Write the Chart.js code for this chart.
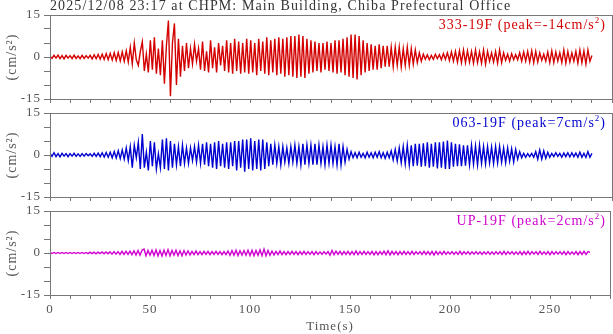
<!DOCTYPE html>
<html><head><meta charset="utf-8">
<script src="https://cdn.jsdelivr.net/npm/chart.js@4/dist/chart.umd.min.js"></script>
<style>
html,body{margin:0;padding:0;background:#fff;}
#wrap{position:relative;width:613px;height:334px;overflow:hidden;font-family:"Liberation Serif",serif;}
canvas{position:absolute;left:0;top:0;}
.t{position:absolute;white-space:nowrap;line-height:14px;}
#title{left:50px;top:-1px;font-size:14px;color:#333;letter-spacing:1.1px;}
.lab{right:7px;font-size:14px;letter-spacing:1px;}
.lab sup{font-size:9px;vertical-align:6px;line-height:0;}
</style></head>
<body>
<div id="wrap">
<canvas id="c0" width="613" height="334"></canvas>
<canvas id="c1" width="613" height="334"></canvas>
<canvas id="c2" width="613" height="334"></canvas>
<div class="t" id="title">2025/12/08 23:17 at CHPM: Main Building, Chiba Prefectural Office</div>
<div class="t lab" id="lab0" style="top:18px;color:#d40000">333-19F (peak=-14cm/s<sup>2</sup>)</div>
<div class="t lab" id="lab1" style="top:116px;color:#0000d0">063-19F (peak=7cm/s<sup>2</sup>)</div>
<div class="t lab" id="lab2" style="top:214px;color:#d000d0">UP-19F (peak=2cm/s<sup>2</sup>)</div>
</div>
<script>
const timeStep = 1;
const xLabelTicks = [0, 50, 100, 150, 200, 250];
const yLabelTicks = [-15, 0, 15];
const seriesColors = ['#d40000', '#0000d0', '#d000d0'];

// 333-19F acceleration (cm/s^2), one value per second from t=0
const acc333 = [
 0.3,-0.5,0.6,-0.4,0.7,-0.6,0.5,-0.7,0.6,-0.4,
 0.5,-0.6,0.7,-0.5,0.4,-0.6,0.6,-0.5,0.5,-0.4,
 0.6,-0.7,0.8,-0.6,0.9,-0.8,1.0,-0.9,1.2,-1.0,
 1.3,-1.1,1.5,-1.2,1.6,-1.4,1.8,-1.5,2.2,-1.8,
 3.5,-2.5,5.0,-1.0,-3.0,2.0,5.5,-5.0,1.0,-5.5,
 6.0,-4.5,7.0,-6.0,3.0,-6.5,6.0,-9.5,4.0,13.0,
 -14.0,5.0,12.0,-10.0,6.5,-7.0,4.0,-5.0,5.0,-4.0,
 3.0,-2.5,4.5,-1.5,3.0,-4.5,5.5,-5.0,2.0,-5.5,
 6.0,-4.0,3.5,-5.5,5.0,-3.0,4.0,-5.0,6.0,-5.5,
 5.0,-6.0,6.5,-5.0,5.5,-6.0,5.0,-5.5,6.5,-6.0,
 6.0,-5.5,5.0,-6.5,6.5,-5.0,5.5,-6.0,7.0,-6.5,
 6.0,-5.5,6.5,-6.5,7.0,-6.0,6.5,-7.0,7.0,-6.5,
 7.5,-7.0,7.5,-7.5,8.0,-7.0,7.5,-7.5,6.5,-6.0,
 6.0,-5.5,5.5,-5.0,5.0,-5.5,5.0,-4.5,5.5,-5.0,
 5.0,-5.5,6.0,-6.0,6.0,-5.5,6.5,-6.5,7.0,-7.0,
 8.0,-7.5,8.0,-8.0,7.5,-6.5,6.0,-5.5,5.0,-5.0,
 4.5,-4.5,4.0,-4.5,4.5,-4.0,4.0,-3.5,4.0,-3.5,
 3.5,-3.5,3.5,-3.0,3.5,-3.5,3.0,-3.0,3.5,-3.0,
 3.0,-2.5,2.5,-2.0,1.5,-1.5,1.0,-0.8,0.8,-1.0,
 0.6,-0.8,1.0,-0.6,0.8,-1.0,1.2,-0.8,1.5,-1.2,
 1.8,-1.5,2.0,-1.8,2.2,-2.0,2.5,-2.0,2.2,-1.8,
 2.0,-2.2,2.5,-2.0,1.8,-2.2,2.5,-2.5,2.0,-1.5,
 1.5,-1.8,2.0,-2.2,2.5,-2.0,1.5,-1.2,1.0,-1.5,
 1.2,-1.0,0.8,-1.0,1.5,-1.5,1.8,-1.5,2.0,-1.8,
 2.2,-2.0,2.0,-1.8,1.5,-1.2,1.0,-1.5,1.8,-2.0,
 2.2,-2.0,1.8,-1.5,1.5,-2.0,2.5,-2.2,2.0,-1.8,
 1.5,-1.5,2.0,-2.2,2.5,-2.0,2.2,-2.5,2.5,-1.5,
 0.5
];

// 063-19F acceleration (cm/s^2)
const acc063 = [
 0.6,-0.5,0.8,-0.6,0.5,-0.7,0.6,-0.4,0.5,-0.6,
 0.5,-0.4,0.6,-0.5,0.4,-0.5,0.5,-0.4,0.5,-0.3,
 0.4,-0.5,0.6,-0.5,0.7,-0.6,0.8,-0.7,0.9,-0.8,
 1.0,-1.0,1.2,-1.1,1.5,-1.3,1.8,-1.5,2.5,-2.0,
 3.0,-4.5,3.5,-1.0,4.5,-5.0,7.5,-4.5,1.0,-5.5,
 5.0,-4.0,4.5,-5.0,0.5,-4.5,5.5,-5.0,6.0,-5.5,
 5.0,-4.5,4.0,-3.5,3.0,-4.0,3.5,-3.0,2.5,-3.0,
 2.5,-2.0,3.0,-2.5,3.5,-3.0,4.0,-3.5,4.5,-4.0,
 4.0,-4.5,4.5,-5.0,5.0,-4.0,4.0,-4.5,4.5,-5.0,
 4.5,-4.0,5.0,-5.5,5.0,-4.5,5.5,-6.0,5.5,-5.0,
 6.0,-5.5,5.0,-5.0,5.5,-5.5,5.5,-5.0,4.5,-4.0,
 4.0,-3.5,3.5,-3.0,3.0,-3.5,3.0,-2.5,2.5,-3.0,
 3.0,-2.5,3.5,-3.0,3.0,-3.5,4.0,-3.5,3.5,-3.0,
 3.5,-3.5,4.0,-3.5,3.5,-3.0,3.0,-3.5,3.5,-3.0,
 3.5,-3.0,3.0,-3.5,4.0,-3.5,3.0,-2.5,2.0,-1.5,
 1.2,-1.0,0.8,-1.0,1.0,-0.8,0.6,-1.0,1.0,-0.8,
 0.8,-1.0,1.0,-0.8,1.2,-1.0,0.8,-1.2,1.0,-1.0,
 1.5,-1.8,2.0,-2.2,2.5,-2.8,3.0,-3.2,3.5,-3.5,
 3.5,-4.0,4.0,-3.8,4.0,-4.2,4.2,-4.0,4.5,-4.5,
 4.0,-4.2,4.5,-4.8,4.5,-4.5,4.8,-5.0,5.2,-5.0,
 4.5,-4.2,4.0,-4.0,3.8,-4.0,3.5,-3.8,3.5,-3.5,
 3.5,-3.2,3.2,-3.5,3.5,-3.0,3.0,-3.2,3.0,-2.8,
 2.8,-3.0,3.0,-2.8,3.0,-2.5,2.5,-2.8,2.5,-2.2,
 2.2,-2.5,2.0,-1.5,1.2,-1.0,0.6,-0.8,0.5,-0.6,
 0.6,-0.8,1.2,-1.5,1.8,-1.5,1.5,-1.2,1.0,-0.8,
 0.6,-0.6,0.8,-0.5,0.6,-0.8,0.7,-0.6,0.8,-0.7,
 0.8,-0.6,0.7,-0.8,1.0,-0.8,0.6,-0.9,1.2,-0.8,
 0.6
];

// UP-19F acceleration (cm/s^2)
const accUP = [
 0.2,-0.2,0.2,-0.2,0.2,-0.2,0.2,-0.2,0.2,-0.2,
 0.2,-0.2,0.2,-0.2,0.2,-0.2,0.2,-0.2,0.2,-0.2,
 0.3,-0.2,0.3,-0.3,0.3,-0.2,0.4,-0.3,0.4,-0.3,
 0.4,-0.4,0.5,-0.4,0.5,-0.5,0.6,-0.5,0.6,-0.5,
 0.7,-0.6,0.8,-0.7,0.9,-0.8,1.0,1.4,-1.0,0.9,
 -0.8,1.0,-0.9,1.1,-1.0,0.9,-1.1,1.0,-0.9,1.2,
 -1.0,0.9,-0.8,1.0,-0.9,0.8,-1.0,0.9,-0.7,0.8,
 -0.7,0.6,-0.6,0.7,-0.6,0.5,-0.6,0.6,-0.5,0.6,
 -0.6,0.5,-0.5,0.6,-0.5,0.5,-0.6,0.5,-0.6,0.7,
 -0.8,0.9,-0.8,1.0,-0.9,0.8,-0.7,0.9,-0.8,1.0,
 -0.9,1.0,-1.0,0.9,-0.8,1.1,-1.0,1.4,-1.0,0.9,
 -0.8,0.7,-0.7,0.6,-0.6,0.7,-0.6,0.5,-0.6,0.5,
 -0.5,0.6,-0.5,0.5,-0.6,0.5,-0.5,0.6,-0.5,0.5,
 -0.5,0.5,-0.6,0.5,-0.5,0.4,-0.5,0.5,-0.4,0.5,
 -0.8,0.9,-0.6,0.7,-0.5,0.6,-0.6,0.5,-0.5,0.6,
 -0.6,0.5,-0.6,0.7,-0.6,0.5,-0.5,0.6,-0.5,0.5,
 -0.5,0.6,-0.7,0.5,-0.6,0.5,-0.5,0.7,-0.6,0.8,
 -0.7,0.6,-0.5,0.5,-0.6,0.5,-0.5,0.6,-0.5,0.5,
 -0.5,0.6,-0.5,0.5,-0.4,0.5,-0.5,0.6,-0.5,0.5,
 -0.6,0.6,-0.7,0.6,-0.5,0.5,-0.5,0.6,-0.5,0.4,
 -0.4,0.5,-0.5,0.4,-0.5,0.6,-0.5,0.5,-0.4,0.5,
 -0.5,0.4,-0.4,0.5,-0.4,0.4,-0.5,0.4,-0.4,0.5,
 -0.5,0.4,-0.5,0.5,-0.4,0.5,-0.5,0.6,-0.5,0.5,
 -0.4,0.5,-0.5,0.4,-0.5,0.5,-0.6,0.5,-0.5,0.6,
 -0.5,0.5,-0.4,0.5,-0.5,0.6,-0.5,0.4,-0.5,0.5,
 -0.6,0.5,-0.5,0.5,-0.4,0.5,-0.5,0.5,-0.6,0.5,
 -0.5,0.4,-0.5,0.5,-0.6,0.5,-0.5,0.6,-0.5,0.5,
 0.2
];

const panels = [acc333, acc063, accUP];

const axisColor = '#777';
const textColor = '#555';
const font = {family: 'Liberation Serif', size: 13};
const titleFont = {family: 'Liberation Serif', size: 14};

const boxPlugin = {
  id: 'box',
  beforeDraw(chart) {
    chart.ctx.letterSpacing = '1px';
  },
  afterDraw(chart) {
    const {ctx, chartArea: a} = chart;
    ctx.save();
    ctx.strokeStyle = axisColor;
    ctx.lineWidth = 1;
    const x0 = Math.round(a.left) + 0.5, x1 = Math.round(a.right) + 0.5;
    const y0 = Math.round(a.top) + 0.5, y1 = Math.round(a.bottom) + 0.5;
    ctx.strokeRect(x0, y0, x1 - x0, y1 - y0);
    ctx.restore();
  }
};

panels.forEach((vals, k) => {
  const isBottom = k === panels.length - 1;
  const top = 15 + 98 * k, bottom = 99 + 98 * k;
  const xH = isBottom ? 334 - bottom : 10;
  new Chart(document.getElementById('c' + k), {
    type: 'line',
    data: {
      datasets: [{
        data: vals.map((v, i) => ({x: i * timeStep, y: v})),
        borderColor: seriesColors[k],
        borderWidth: 1.4,
        pointRadius: 0,
        tension: 0,
        fill: false
      }]
    },
    options: {
      responsive: false, animation: false, devicePixelRatio: 1, events: [],
      layout: {padding: {left: 0, right: 1, top: top, bottom: 334 - bottom - xH}},
      plugins: {legend: {display: false}, tooltip: {enabled: false}},
      scales: {
        x: {
          type: 'linear', min: 0, max: 280,
          ticks: {stepSize: 10, autoSkip: false, maxRotation: 0, display: isBottom, padding: 3,
                  color: textColor, font: font,
                  callback: v => xLabelTicks.includes(v) ? String(v) : ''},
          grid: {drawOnChartArea: false, drawTicks: true, tickLength: 4, color: axisColor},
          border: {display: true, color: axisColor},
          title: {display: isBottom, text: 'Time(s)', color: textColor, font: font, padding: {top: 0, bottom: 0}},
          afterFit: s => { s.height = xH; }
        },
        y: {
          min: -15, max: 15,
          ticks: {stepSize: 5, autoSkip: false, padding: 3, color: textColor, font: font,
                  callback: v => yLabelTicks.includes(v) ? String(v) : ''},
          grid: {drawOnChartArea: false, drawTicks: true, tickLength: 6, color: axisColor},
          border: {display: true, color: axisColor},
          title: {display: true, text: '(cm/s²)', color: textColor, font: titleFont, padding: {top: 4, bottom: 0}},
          afterFit: s => { s.width = 50; }
        }
      }
    },
    plugins: [boxPlugin]
  });
});
</script>
</body></html>
